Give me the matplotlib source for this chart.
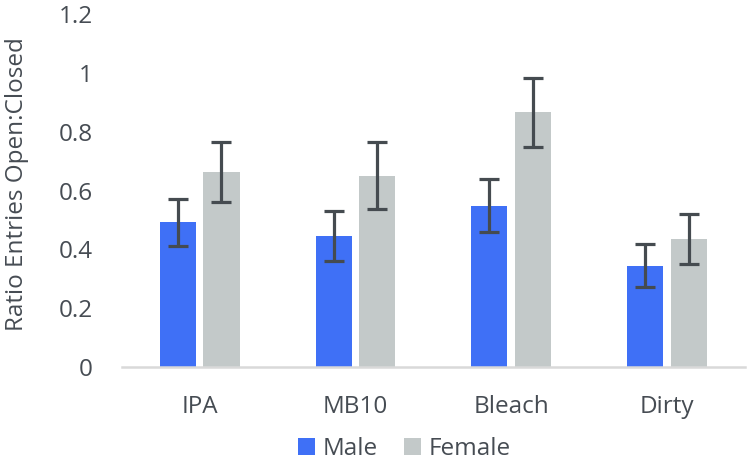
import matplotlib
matplotlib.use("Agg")
import matplotlib.pyplot as plt
import numpy as np

categories = ["IPA", "MB10", "Bleach", "Dirty"]
male = [0.492, 0.447, 0.549, 0.345]
male_err = [0.080, 0.085, 0.090, 0.074]
female = [0.662, 0.651, 0.866, 0.436]
female_err = [0.102, 0.113, 0.119, 0.085]
yticks = [0, 0.2, 0.4, 0.6, 0.8, 1.0, 1.2]
ytick_labels = ["0", "0.2", "0.4", "0.6", "0.8", "1", "1.2"]

male_color = "#3F70F6"
female_color = "#C3C9C9"
err_color = "#454B50"
text_color = "#464C53"

plt.rcParams['font.family'] = ['Open Sans', 'DejaVu Sans']

fig = plt.figure(figsize=(7.47, 4.62), dpi=100)
ax = fig.add_axes([0.163, 0.2056, 0.834, 0.7634])

x = np.arange(len(categories))
w = 0.232
off = 0.14
ax.bar(x - off, male, w, color=male_color, label="Male", zorder=2)
ax.bar(x + off, female, w, color=female_color, label="Female", zorder=2)
ekw = dict(fmt="none", ecolor=err_color, elinewidth=2.3, capsize=7.2, capthick=2.3, zorder=3)
ax.errorbar(x - off, male, yerr=male_err, **ekw)
ax.errorbar(x + off, female, yerr=female_err, **ekw)

ax.set_xlim(-0.5, 3.5)
ax.set_ylim(0, 1.2)
ax.set_yticks(yticks)
ax.set_yticklabels(ytick_labels)
ax.set_xticks(x)
ax.set_xticklabels(categories)
for s in ["top", "right", "left"]:
    ax.spines[s].set_visible(False)
ax.spines["bottom"].set_color("#D9D9D9")
ax.spines["bottom"].set_linewidth(1.8)
ax.tick_params(axis="both", length=0, labelsize=17.5, colors=text_color)
ax.tick_params(axis="y", pad=21)
ax.tick_params(axis="x", pad=20)
ax.set_ylabel("Ratio Entries Open:Closed", fontsize=17.5, color=text_color)
ax.yaxis.set_label_coords(-0.149, 0.52)

leg = fig.legend(loc="center", bbox_to_anchor=(0.541, 1 - 449/462), ncol=2, frameon=False,
                 fontsize=17.5, handlelength=0.7, handleheight=0.7, handletextpad=0.3,
                 columnspacing=1.1, labelcolor=text_color)

fig.savefig("out.png", dpi=100)
